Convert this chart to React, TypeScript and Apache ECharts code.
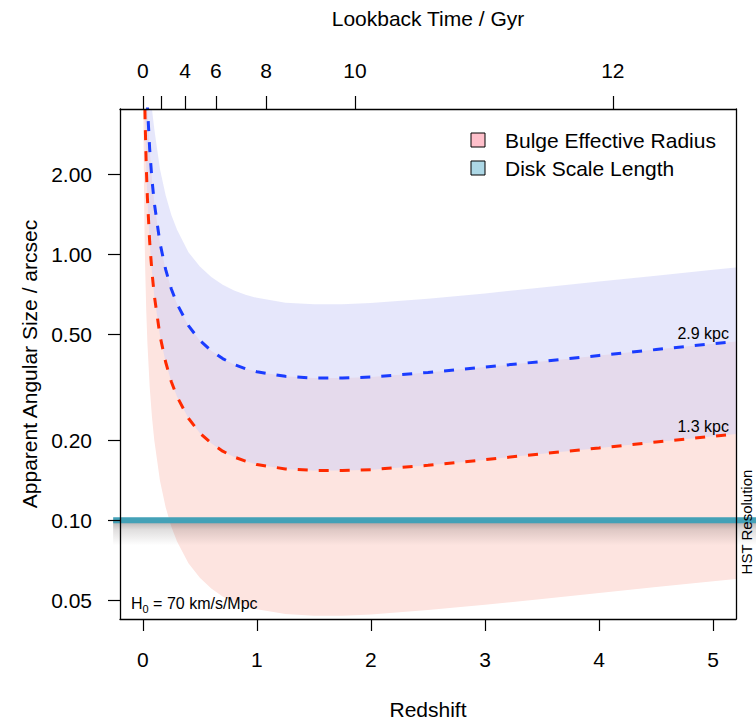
import React, { useEffect, useRef } from 'react';
import * as echarts from 'echarts';

// Redshift sample points
const redshift = [0.005, 0.01, 0.015, 0.02, 0.03, 0.04, 0.06, 0.08, 0.1, 0.15, 0.2, 0.25, 0.3, 0.4, 0.5, 0.6, 0.7, 0.8, 0.9, 1.0, 1.25, 1.5, 1.75, 2.0, 2.5, 3.0, 3.5, 4.0, 4.5, 5.0, 5.2];
// Blue dashed curve (2.9 kpc), arcsec
const disk29 = [28.2, 14.1, 9.48, 7.16, 4.83, 3.66, 2.5, 1.92, 1.572, 1.107, 0.879, 0.742, 0.652, 0.54, 0.475, 0.434, 0.406, 0.386, 0.372, 0.362, 0.348, 0.343, 0.343, 0.346, 0.36, 0.377, 0.396, 0.417, 0.439, 0.462, 0.471];
// Red dashed curve (1.3 kpc), arcsec
const bulge13 = [12.6, 6.33, 4.25, 3.21, 2.16, 1.64, 1.12, 0.861, 0.705, 0.496, 0.394, 0.332, 0.292, 0.242, 0.213, 0.195, 0.182, 0.173, 0.167, 0.162, 0.156, 0.154, 0.154, 0.155, 0.161, 0.169, 0.178, 0.187, 0.197, 0.207, 0.211];
// Upper edge of the disk (lavender) band
const diskUpper = [53.4, 26.8, 18.0, 13.6, 9.15, 6.94, 4.74, 3.64, 2.98, 2.1, 1.67, 1.41, 1.24, 1.02, 0.902, 0.823, 0.769, 0.732, 0.706, 0.687, 0.659, 0.65, 0.65, 0.657, 0.682, 0.714, 0.751, 0.791, 0.833, 0.876, 0.893];
// Lower edge of the bulge (pink) band
const bulgeLower = [3.59, 1.8, 1.21, 0.914, 0.616, 0.467, 0.319, 0.245, 0.201, 0.141, 0.112, 0.0946, 0.0831, 0.0689, 0.0607, 0.0554, 0.0517, 0.0493, 0.0475, 0.0462, 0.0444, 0.0437, 0.0437, 0.0442, 0.0459, 0.0481, 0.0505, 0.0532, 0.0561, 0.0589, 0.0601];

const xTicks = [0, 1, 2, 3, 4, 5];
const yTicks = [0.05, 0.1, 0.2, 0.5, 1, 2];
const lookbackGyr = [0, 2, 4, 6, 8, 10, 12];
const lookbackZ = [0, 0.16, 0.37, 0.64, 1.08, 1.86, 4.12];
const lookbackLabelZ = [0, 0.37, 0.64, 1.08, 1.86, 4.12];
const hstResolution = 0.1;
const hstSpan = [-0.26, 5.6];

const F = '"Liberation Sans", Arial, Helvetica, sans-serif';

function bandSeries(name: string, lower: number[], upper: number[], fill: string) {
  return {
    type: 'custom',
    name,
    clip: true,
    z: 1,
    silent: true,
    data: redshift.map((z, i) => [z, lower[i], upper[i]]),
    encode: { x: 0, y: [1, 2] },
    renderItem: (params: any, api: any) => {
      if (params.dataIndex !== 0) return null;
      const cs = params.coordSys;
      const clampY = (p: number[]) => [p[0], Math.max(cs.y, Math.min(cs.y + cs.height, p[1]))];
      const top = redshift.map((z, i) => clampY(api.coord([z, upper[i]])));
      const bot = redshift.map((z, i) => clampY(api.coord([z, lower[i]]))).reverse();
      return { type: 'polygon', shape: { points: top.concat(bot) }, style: { fill } };
    },
  };
}

export default function App() {
  const ref = useRef<HTMLDivElement>(null);
  useEffect(() => {
    if (!ref.current) return;
    const chart = echarts.init(ref.current, undefined, { renderer: 'svg' });
    const axisLine = { show: true, onZero: false, lineStyle: { color: '#000', width: 1.3 } };
    const tickStyle = { color: '#000', width: 1.2 };
    const labelStyle = { fontSize: 21, color: '#000', fontFamily: F };
    const option: any = {
      animation: false,
      grid: { left: 120, right: 20, top: 109, bottom: 103, containLabel: false },
      xAxis: [
        {
          type: 'value', position: 'bottom', min: -0.2, max: 5.2, z: 10,
          name: 'Redshift', nameLocation: 'middle', nameGap: 80,
          nameTextStyle: { fontSize: 21, color: '#000', fontFamily: F },
          axisLine,
          axisTick: { show: true, length: 12, customValues: xTicks, lineStyle: tickStyle },
          axisLabel: { customValues: xTicks, margin: 30, ...labelStyle },
          splitLine: { show: false },
        },
        {
          type: 'value', position: 'top', min: -0.2, max: 5.2, z: 10,
          name: 'Lookback Time / Gyr', nameLocation: 'middle', nameGap: 80,
          nameTextStyle: { fontSize: 21, color: '#000', fontFamily: F },
          axisLine,
          axisTick: { show: true, length: 13, customValues: lookbackZ, lineStyle: tickStyle },
          axisLabel: {
            customValues: lookbackLabelZ, margin: 28, ...labelStyle,
            formatter: (v: number) => {
              let best = 0;
              lookbackZ.forEach((z, i) => { if (Math.abs(z - v) < Math.abs(lookbackZ[best] - v)) best = i; });
              return String(lookbackGyr[best]);
            },
          },
          splitLine: { show: false },
        },
      ],
      yAxis: [
        {
          type: 'log', logBase: 10, min: 0.0425, max: 3.53, position: 'left', z: 10,
          name: 'Apparent Angular Size / arcsec', nameLocation: 'middle', nameGap: 80, nameRotate: 90,
          nameTextStyle: { fontSize: 21, color: '#000', fontFamily: F },
          axisLine,
          axisTick: { show: true, length: 12, customValues: yTicks, lineStyle: tickStyle },
          axisLabel: { customValues: yTicks, margin: 28, ...labelStyle, formatter: (v: number) => Number(v).toFixed(2) },
          splitLine: { show: false },
          minorTick: { show: false },
        },
        {
          type: 'log', logBase: 10, min: 0.0425, max: 3.53, position: 'right', z: 10,
          axisLine,
          axisTick: { show: false },
          axisLabel: { show: false },
          splitLine: { show: false },
        },
      ],
      series: [
        bandSeries('Bulge Effective Radius', bulgeLower, disk29, '#FDE4E0'),
        bandSeries('Disk Scale Length', bulge13, diskUpper, 'rgba(205,207,247,0.5)'),
        {
          type: 'line', name: '1.3 kpc', z: 3, symbol: 'none', silent: true,
          data: redshift.map((z, i) => [z, bulge13[i]]),
          lineStyle: { color: '#ff2a00', width: 3, type: [10, 11] },
        },
        {
          type: 'line', name: '2.9 kpc', z: 3, symbol: 'none', silent: true,
          data: redshift.map((z, i) => [z, disk29[i]]),
          lineStyle: { color: '#1a3cff', width: 3, type: [10, 11] },
        },
        {
          type: 'custom', name: 'HST Resolution', z: 5, silent: true, clip: false,
          data: [[hstSpan[0], hstResolution, hstSpan[1]]],
          encode: { x: [0, 2], y: 1 },
          renderItem: (params: any, api: any) => {
            const a = api.coord([api.value(0), api.value(1)]);
            const b = api.coord([api.value(2), api.value(1)]);
            return {
              type: 'group',
              children: [
                {
                  type: 'rect',
                  shape: { x: a[0], y: a[1] + 1, width: b[0] - a[0], height: 24 },
                  style: {
                    fill: new echarts.graphic.LinearGradient(0, 0, 0, 1, [
                      { offset: 0, color: 'rgba(60,50,50,0.38)' },
                      { offset: 0.35, color: 'rgba(60,50,50,0.16)' },
                      { offset: 1, color: 'rgba(60,50,50,0)' },
                    ]),
                  },
                },
                {
                  type: 'rect',
                  shape: { x: a[0], y: a[1] - 3, width: b[0] - a[0], height: 6 },
                  style: { fill: '#43A1B7' },
                },
              ],
            };
          },
        },
      ],
      graphic: [
        { type: 'rect', z: 100, shape: { x: 471, y: 133, width: 14, height: 14 }, style: { fill: '#FFC0CB', stroke: '#000', lineWidth: 1 } },
        { type: 'rect', z: 100, shape: { x: 471, y: 161, width: 14, height: 14 }, style: { fill: '#ADD8E6', stroke: '#000', lineWidth: 1 } },
        { type: 'text', z: 100, x: 505, y: 140, style: { text: 'Bulge Effective Radius', fontSize: 21, fill: '#000', fontFamily: F, verticalAlign: 'middle' } },
        { type: 'text', z: 100, x: 505, y: 168, style: { text: 'Disk Scale Length', fontSize: 21, fill: '#000', fontFamily: F, verticalAlign: 'middle' } },
        { type: 'text', z: 100, x: 729, y: 333, style: { text: '2.9 kpc', fontSize: 16, fill: '#000', fontFamily: F, align: 'right', verticalAlign: 'middle' } },
        { type: 'text', z: 100, x: 729, y: 426, style: { text: '1.3 kpc', fontSize: 16, fill: '#000', fontFamily: F, align: 'right', verticalAlign: 'middle' } },
        {
          type: 'text', z: 100, x: 131, y: 603,
          style: {
            text: '{a|H}{s|0}{a| = 70 km/s/Mpc}', fill: '#000', fontFamily: F, verticalAlign: 'middle',
            rich: {
              a: { fontSize: 16, fontFamily: F, fill: '#000' },
              s: { fontSize: 11, fontFamily: F, fill: '#000', verticalAlign: 'bottom', padding: [0, 0, -3, 0] },
            },
          },
        },
        { type: 'text', z: 100, x: 746, y: 522, rotation: Math.PI / 2, style: { text: 'HST Resolution', fontSize: 15, fill: '#000', fontFamily: F, align: 'center', verticalAlign: 'middle' } },
      ],
    };
    chart.setOption(option);
    return () => chart.dispose();
  }, []);
  return <div ref={ref} style={{ position: 'fixed', left: 0, top: 0, width: 756, height: 725, background: '#fff' }} />;
}
